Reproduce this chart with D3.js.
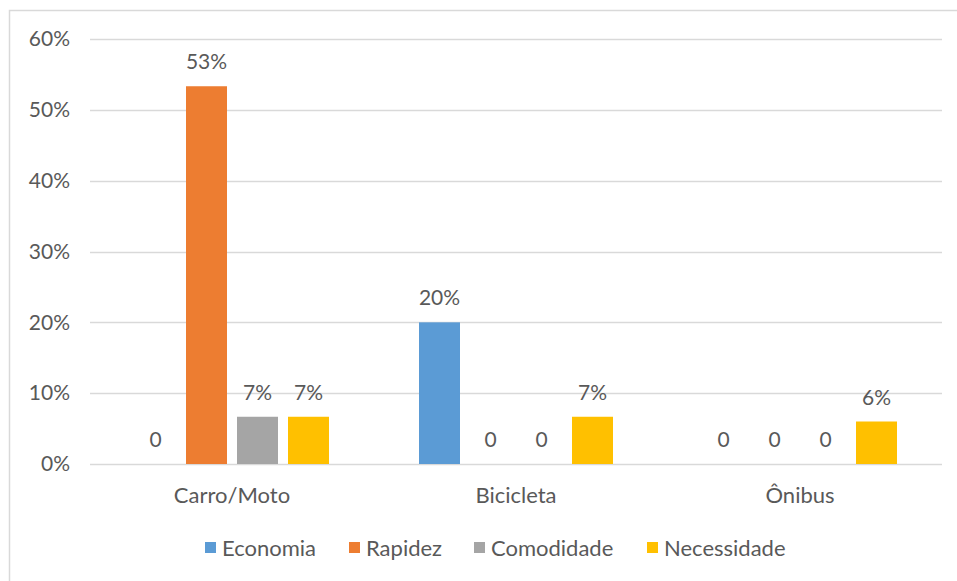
<!DOCTYPE html>
<html>
<head>
<meta charset="utf-8">
<script src="https://cdn.jsdelivr.net/npm/d3@7"></script>
<style>
  html, body { margin: 0; padding: 0; background: #fff; }
  svg text { font-family: Lato, "Open Sans", sans-serif; fill: #595959; }
</style>
</head>
<body>
<svg id="chart" width="957" height="581"></svg>
<script>
const categories = ["Carro/Moto", "Bicicleta", "Ônibus"];
const seriesNames = ["Economia", "Rapidez", "Comodidade", "Necessidade"];
const economia = [0, 0.20, 0];
const rapidez = [0.5333, 0, 0];
const comodidade = [0.0667, 0, 0];
const necessidade = [0.0667, 0.0667, 0.06];
const yTicks = [0, 0.1, 0.2, 0.3, 0.4, 0.5, 0.6];
const colors = ["#5B9BD5", "#ED7D31", "#A5A5A5", "#FFC000"];

const seriesValues = [economia, rapidez, comodidade, necessidade];

const svg = d3.select("#chart");

// chart border (left/top visible; rest cropped)
svg.append("rect")
  .attr("x", 9.5).attr("y", 10.5)
  .attr("width", 1000).attr("height", 700)
  .attr("fill", "none").attr("stroke", "#D9D9D9").attr("stroke-width", 1.5);

const plot = { left: 90, right: 942, top: 39, bottom: 464 };

const x0 = d3.scaleBand().domain(categories).range([plot.left, plot.right]).paddingInner(0).paddingOuter(0);
const x1 = d3.scaleBand().domain(seriesNames).range([0, 194]).paddingInner(10 / 51).paddingOuter(0);
const y = d3.scaleLinear().domain([0, 0.6]).range([plot.bottom, plot.top]);

// gridlines
svg.append("g").selectAll("line").data(yTicks).join("line")
  .attr("x1", plot.left).attr("x2", plot.right)
  .attr("y1", d => Math.round(y(d)) + 0.5).attr("y2", d => Math.round(y(d)) + 0.5)
  .attr("stroke", "#D9D9D9").attr("stroke-width", 1.3);

// y axis labels
const yAxis = d3.axisLeft(y).tickValues(yTicks).tickFormat(d3.format(".0%")).tickSize(0).tickPadding(0);
const gy = svg.append("g").attr("transform", `translate(70,0)`).call(yAxis);
gy.select(".domain").remove();
gy.selectAll("text").attr("font-size", 21).attr("fill", "#595959")
  .attr("font-family", "Lato, 'Open Sans', sans-serif");

// x axis labels
const xAxis = d3.axisBottom(x0).tickSize(0).tickPadding(0);
const gx = svg.append("g").attr("transform", `translate(0,${plot.bottom + 23})`).call(xAxis);
gx.select(".domain").remove();
gx.selectAll("text").attr("font-size", 22).attr("fill", "#595959")
  .attr("font-family", "Lato, 'Open Sans', sans-serif");

// bars
const groups = svg.append("g").selectAll("g").data(categories).join("g")
  .attr("transform", c => `translate(${x0(c) + x0.bandwidth() / 2 - 97},0)`);

const cells = groups.selectAll("g.cell")
  .data((c, ci) => seriesNames.map((s, si) => ({ s, si, v: seriesValues[si][ci] })))
  .join("g").attr("class", "cell");

cells.append("rect")
  .attr("x", d => x1(d.s))
  .attr("width", x1.bandwidth())
  .attr("y", d => y(d.v))
  .attr("height", d => plot.bottom - y(d.v))
  .attr("fill", d => colors[d.si]);

const pct = d3.format(".0%");
cells.append("text")
  .attr("x", d => x1(d.s) + x1.bandwidth() / 2)
  .attr("y", d => y(d.v) - 17)
  .attr("text-anchor", "middle")
  .attr("font-size", 21)
  .text(d => d.v === 0 ? "0" : pct(d.v));

// legend
const legendItems = [
  { name: "Economia", x: 205 },
  { name: "Rapidez", x: 349 },
  { name: "Comodidade", x: 474 },
  { name: "Necessidade", x: 647 }
];
const lg = svg.append("g").selectAll("g").data(legendItems).join("g")
  .attr("transform", d => `translate(${d.x},548)`);
lg.append("rect").attr("x", 0).attr("y", -6).attr("width", 11).attr("height", 11)
  .attr("fill", (d, i) => colors[i]);
lg.append("text").attr("x", 17).attr("y", 0).attr("dy", "0.35em")
  .attr("font-size", 22).text(d => d.name);
</script>
</body>
</html>
